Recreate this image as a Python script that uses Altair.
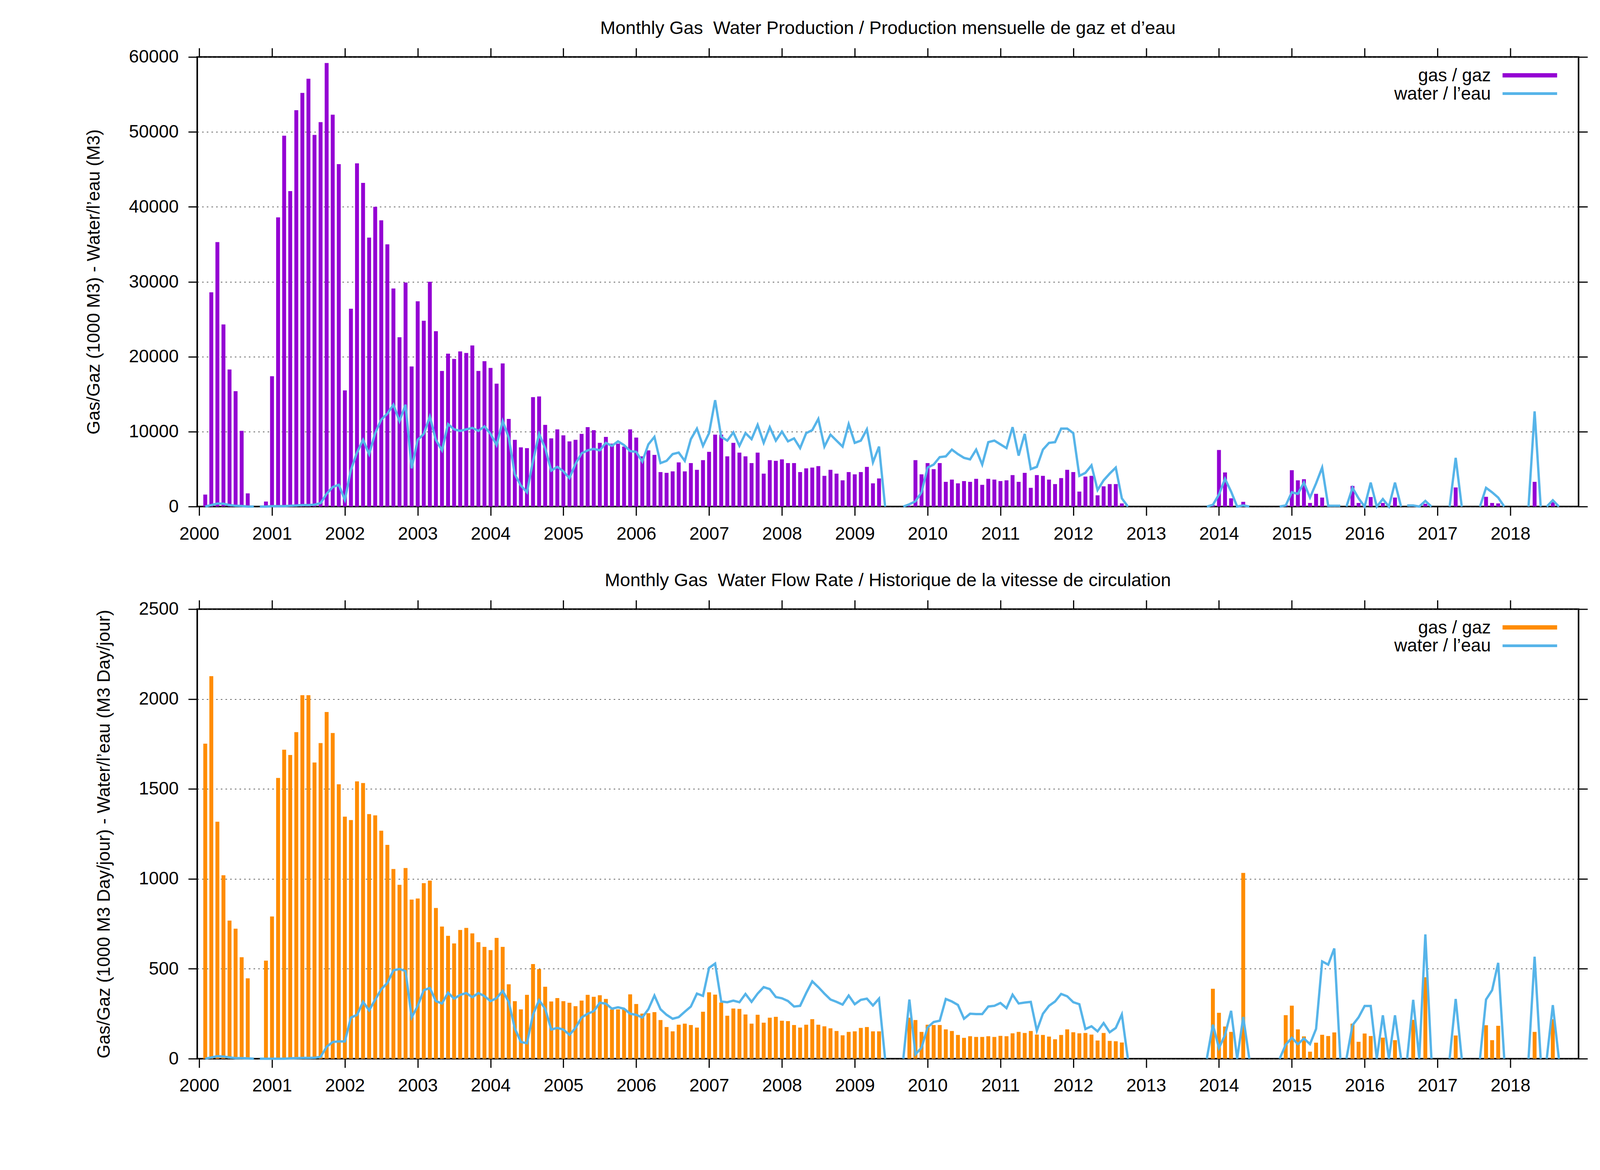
import altair as alt
import pandas as pd

# ---------------- data (monthly, m = 1 .. 224, plotted at 2000 + m/12) ----------------
YEARS = list(range(2000, 2019))
PROD_TICKS = [0, 10000, 20000, 30000, 40000, 50000, 60000]
RATE_TICKS = [0, 500, 1000, 1500, 2000, 2500]

GAS_PROD = (
    [1600, 28600, 35300, 24300, 18300, 15400, 10100, 1760, 0, None, 670, 17400]
    + [38600, 49500, 42100, 52900, 55200, 57100, 49600, 51300, 59200, 52300, 45700, 15500]
    + [26400, 45800, 43200, 35900, 40000, 38200, 35000, 29100, 22600, 29900, 18700, 27400]
    + [24800, 30000, 23400, 18100, 20400, 19700, 20700, 20500, 21500, 18100, 19400, 18500]
    + [16400, 19100, 11700, 8900, 7900, 7800, 14600, 14700, 10900, 9100, 10300, 9500]
    + [8700, 8900, 9700, 10600, 10200, 8500, 9300, 8400, 8400, 8000, 10300, 9200]
    + [6700, 7500, 6900, 4600, 4500, 4700, 5900, 4700, 5800, 4900, 6200, 7300]
    + [9600, 9600, 6700, 8500, 7200, 6700, 5800, 7200, 4400, 6200, 6100, 6300]
    + [5800, 5800, 4600, 5100, 5200, 5400, 4100, 4900, 4400, 3500, 4600, 4300]
    + [4600, 5300, 3100, 3750, 0, None, None, 0, 100, 6200, 4300, 5800]
    + [5000, 5800, 3300, 3600, 3100, 3400, 3300, 3700, 2900, 3700, 3600, 3400]
    + [3500, 4200, 3300, 4500, 2500, 4200, 4100, 3600, 3000, 3800, 4900, 4600]
    + [2000, 4000, 4100, 1500, 2700, 3000, 3000, 420, 0, None, None, None]
    + [None, None, None, None, None, None, None, None, None, 0, 200, 7550]
    + [4550, 1100, 0, 630, 0, None, None, None, None, 0, 200, 4850]
    + [3500, 3650, 480, 1700, 1200, 80, 80, 0, 0, 2750, 480, 60]
    + [1270, 0, 480, 0, 1200, 0, 0, 100, 0, 370, 0, None]
    + [None, 0, 2550, 0, None, None, 0, 1300, 480, 420, 0, None]
    + [None, None, 0, 3300, 0, 0, 580, 0]
)

WATER_PROD = (
    [0, 200, 400, 380, 200, 100, 80, 0, 0, 0, 0, 50]
    + [50, 50, 100, 150, 200, 200, 250, 460, 1700, 2600, 2900, 900]
    + [4900, 7200, 8900, 7000, 9800, 11600, 12400, 13600, 11400, 13600, 5100, 8900]
    + [9700, 12000, 8900, 7500, 11000, 10300, 10100, 10300, 10500, 10100, 10700, 9700]
    + [8200, 11400, 9200, 4300, 2800, 1900, 6100, 9700, 7800, 4800, 5300, 4700]
    + [3800, 5700, 7100, 7500, 7700, 7500, 8500, 8100, 8700, 8200, 7400, 7300]
    + [6000, 8300, 9300, 5800, 6100, 7000, 7200, 6100, 9000, 10400, 8100, 9800]
    + [14200, 9300, 8800, 9900, 8100, 9800, 9000, 10900, 8500, 10600, 8800, 10000]
    + [8700, 9100, 7800, 9800, 10200, 11700, 8000, 9600, 8800, 8000, 11000, 8500]
    + [8800, 10300, 5900, 8000, 0, None, None, 0, 300, 700, 1900, 5200]
    + [5600, 6600, 6700, 7600, 7000, 6500, 6300, 7600, 5600, 8600, 8800, 8300]
    + [7800, 10600, 6800, 9700, 5000, 5300, 7600, 8500, 8600, 10400, 10400, 9800]
    + [4100, 4500, 5500, 2200, 3500, 4400, 5200, 1100, 0, None, None, None]
    + [None, None, None, None, None, None, None, None, None, 0, 230, 1600]
    + [3700, 2000, 0, 150, 0, None, None, None, None, 0, 150, 1900]
    + [1700, 3200, 1200, 3100, 5200, 100, 100, 100, 0, 2500, 1100, 0]
    + [3200, 0, 1000, 0, 3200, 0, 150, 150, 0, 750, 0, None]
    + [None, 0, 6500, 0, None, None, 0, 2500, 1900, 1200, 0, None]
    + [None, None, 0, 12700, 0, 0, 850, 0]
)

GAS_RATE = (
    [1752, 2127, 1318, 1020, 768, 723, 564, 447, 0, None, 545, 791]
    + [1561, 1718, 1689, 1816, 2021, 2021, 1647, 1755, 1928, 1811, 1526, 1346]
    + [1327, 1542, 1533, 1360, 1353, 1268, 1189, 1055, 967, 1060, 885, 891]
    + [976, 990, 838, 735, 683, 641, 716, 727, 697, 648, 622, 604]
    + [672, 622, 414, 320, 274, 355, 526, 498, 400, 318, 337, 320]
    + [311, 292, 323, 355, 344, 353, 332, 274, 274, 274, 358, 304]
    + [251, 253, 259, 215, 176, 152, 189, 195, 187, 173, 261, 369]
    + [356, 312, 239, 279, 277, 246, 195, 244, 200, 228, 233, 211]
    + [209, 187, 173, 189, 220, 189, 180, 169, 154, 130, 149, 152]
    + [171, 176, 152, 152, 0, None, None, 0, 228, 215, 149, 189]
    + [187, 187, 163, 154, 132, 116, 125, 121, 121, 125, 121, 127]
    + [125, 141, 149, 143, 154, 134, 132, 123, 108, 132, 163, 147]
    + [141, 143, 134, 101, 143, 99, 97, 90, 0, None, None, None]
    + [None, None, None, None, None, None, None, None, None, 0, 389, 255]
    + [179, 149, 0, 1033, 0, None, None, None, None, 0, 242, 295]
    + [163, 124, 39, 89, 133, 126, 146, 0, 0, 195, 94, 140]
    + [126, 0, 117, 0, 103, 0, 0, 216, 0, 453, 0, None]
    + [None, 0, 129, 0, None, None, 0, 186, 103, 183, 0, None]
    + [None, None, 0, 149, 0, 0, 220, 0]
)

WATER_RATE = (
    [0, 7, 14, 12, 7, 3, 3, 2, 0, 0, 0, 0]
    + [0, 0, 2, 3, 4, 4, 5, 10, 66, 93, 96, 96]
    + [229, 243, 316, 269, 328, 386, 421, 491, 499, 487, 229, 293]
    + [381, 393, 320, 307, 367, 334, 355, 365, 342, 365, 348, 320]
    + [337, 377, 316, 168, 93, 86, 246, 325, 278, 162, 171, 162]
    + [133, 171, 229, 250, 264, 311, 306, 278, 286, 278, 250, 244]
    + [229, 275, 351, 275, 244, 222, 231, 261, 290, 362, 349, 505]
    + [529, 318, 314, 323, 314, 360, 316, 362, 398, 387, 343, 336]
    + [321, 290, 294, 365, 430, 398, 362, 329, 316, 301, 351, 303]
    + [327, 334, 296, 334, 0, None, None, 0, 329, 24, 61, 174]
    + [204, 211, 332, 318, 299, 222, 250, 248, 248, 290, 294, 310]
    + [281, 356, 307, 312, 316, 156, 250, 294, 318, 360, 347, 314]
    + [303, 165, 180, 152, 198, 147, 171, 246, 0, None, None, None]
    + [None, None, None, None, None, None, None, None, None, 0, 189, 59]
    + [132, 266, 0, 232, 0, None, None, None, None, 0, 78, 116]
    + [81, 112, 81, 166, 541, 523, 613, 0, 0, 186, 230, 293]
    + [293, 0, 241, 0, 241, 0, 0, 327, 0, 691, 0, None]
    + [None, 0, 332, 0, None, None, 0, 329, 381, 533, 0, None]
    + [None, None, 0, 567, 0, 0, 298, 0]
)

# contiguous runs (first month, last month) of the water line
WATER_RUNS = [(1, 9), (10, 113), (116, 153), (166, 173), (178, 188), (189, 198),
              (199, 203), (206, 208), (211, 215), (219, 221), (222, 224)]

LEGEND_GAS = "gas / gaz"
LEGEND_WATER = "water / l\u2019eau"

# ---------------- styling ----------------
FONT = "Liberation Sans"
FS = 46
TFS = 47
W, H = 3544, 1153
PURPLE = "#9400D3"
ORANGE = "#FF8C00"
BLUE = "#56B4E9"
XMAX = 2018.91


def month_x(m):
    return 2000 + m / 12.0


def bar_frame(values):
    rows = [{"x": month_x(i + 1), "v": v} for i, v in enumerate(values) if v]
    return pd.DataFrame(rows)


def line_frame(values):
    rows = []
    for k, (a, b) in enumerate(WATER_RUNS):
        for m in range(a, b + 1):
            v = values[m - 1]
            if v is not None:
                rows.append({"x": month_x(m), "v": v, "seg": k})
    return pd.DataFrame(rows)


def panel(title, ytitle, title_x, gas, water, gas_color, ymax, yticks):
    xscale = alt.Scale(domain=[2000, XMAX], nice=False, zero=False)
    yscale = alt.Scale(domain=[0, ymax], nice=False)

    bars = alt.Chart(bar_frame(gas)).mark_bar(size=10, color=gas_color).encode(
        x=alt.X("x:Q", scale=xscale,
                axis=alt.Axis(orient="bottom", values=YEARS, format="d", tickSize=23,
                              labelPadding=25, grid=False, title=None)),
        y=alt.Y("v:Q", scale=yscale,
                axis=alt.Axis(orient="left", values=yticks, format="d", tickSize=23,
                              labelPadding=25, grid=True, gridDash=[4, 8], gridColor="#333333",
                              gridWidth=1.5, title=ytitle, titleX=-title_x, titleY=H / 2,
                              titleAngle=270, titleAlign="center", titleBaseline="middle")),
    )

    line = alt.Chart(line_frame(water)).mark_line(color=BLUE, strokeWidth=6).encode(
        x=alt.X("x:Q", scale=xscale,
                axis=alt.Axis(orient="top", values=YEARS, labels=False, tickSize=23,
                              grid=False, title=None)),
        y=alt.Y("v:Q", scale=yscale,
                axis=alt.Axis(orient="right", values=yticks, labels=False, tickSize=23,
                              grid=False, title=None)),
        detail="seg:N",
        order="x:Q",
    )

    def leg_text(label, y):
        return alt.Chart(pd.DataFrame({"label": [label]})).mark_text(
            align="right", baseline="middle", font=FONT, fontSize=FS, color="black"
        ).encode(x=alt.value(3319), y=alt.value(y), text="label:N")

    def leg_rule(label, y, color, width):
        return alt.Chart(pd.DataFrame({"label": [label]})).mark_rule(
            color=color, strokeWidth=width
        ).encode(x=alt.value(3349), x2=alt.value(3489), y=alt.value(y))

    layers = alt.layer(
        bars, line,
        leg_text(LEGEND_GAS, 48), leg_rule(LEGEND_GAS, 47, gas_color, 11),
        leg_text(LEGEND_WATER, 95), leg_rule(LEGEND_WATER, 94, BLUE, 7),
    ).resolve_axis(x="independent", y="independent").properties(
        width=W, height=H,
        title=alt.TitleParams(text=title, font=FONT, fontSize=TFS, fontWeight="normal",
                              anchor="middle", frame="group", baseline="alphabetic",
                              offset=-13, color="black"),
    )
    return layers


top = panel("Monthly Gas\u00a0 Water Production / Production mensuelle de gaz et d\u2019eau",
            "Gas/Gaz (1000 M3) - Water/l\u2019eau (M3)", 265,
            GAS_PROD, WATER_PROD, PURPLE, 60000, PROD_TICKS)
bottom = panel("Monthly Gas\u00a0 Water Flow Rate / Historique de la vitesse de circulation",
               "Gas/Gaz (1000 M3 Day/jour) - Water/l\u2019eau (M3 Day/jour)", 239,
               GAS_RATE, WATER_RATE, ORANGE, 2500, RATE_TICKS)

chart = alt.vconcat(top, bottom, spacing=263, bounds="flush").properties(
    padding={"left": 208, "top": 36, "right": 20, "bottom": 20},
    background="white",
).configure_view(stroke="black", strokeWidth=4).configure_axis(
    labelFont=FONT, labelFontSize=FS, labelColor="black",
    titleFont=FONT, titleFontSize=FS, titleFontWeight="normal", titleColor="black",
    tickColor="black", tickWidth=3, domain=False,
)

chart.save("out.html", embed_options={"renderer": "svg", "actions": False})
